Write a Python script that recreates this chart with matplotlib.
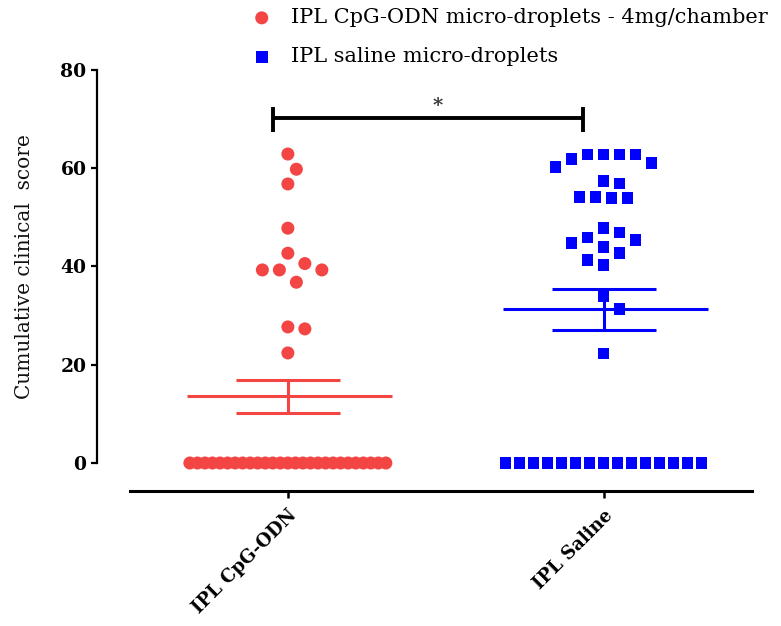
import numpy as np
import matplotlib
matplotlib.use("Agg")
import matplotlib.pyplot as plt

# data (cumulative clinical score per animal)
categories = ["IPL CpG-ODN", "IPL Saline"]
legend_labels = ["IPL CpG-ODN micro-droplets - 4mg/chamber", "IPL saline micro-droplets"]

cpg_nonzero = [62.9, 59.8, 56.8, 47.8, 42.7, 40.6, 39.3, 39.3, 39.3, 36.8, 27.7, 27.3, 22.4]
cpg_zero_count = 27
saline_nonzero = [62.8, 62.8, 62.8, 62.8, 61.9, 61.0, 60.3, 57.4, 56.9, 54.2, 54.2, 53.9, 53.9,
                  47.8, 46.9, 45.9, 45.4, 44.8, 43.9, 42.8, 41.3, 40.3, 33.9, 31.3, 22.3]
saline_zero_count = 15

cpg = np.array(cpg_nonzero + [0.0] * cpg_zero_count)
saline = np.array(saline_nonzero + [0.0] * saline_zero_count)

red = "#F44545"
blue = "#0000FF"

plt.rcParams['font.family'] = ['DejaVu Serif']

fig = plt.figure(figsize=(7.81, 6.26), dpi=100)
ax = fig.add_axes([130 / 781, 1 - 491 / 626, (752 - 130) / 781, (491 - 70) / 626])
ax.set_xlim(-0.5, 1.47)
ax.set_ylim(-5.7, 80)


def swarm(values, center, step_px=17.0, max_half_px=98.0):
    # simple beeswarm in pixel space; ties that don't fit are squeezed in a row
    to_px = ax.transData
    inv = to_px.inverted()
    cx_px = to_px.transform((center, 0))[0]
    xs = np.zeros(len(values))
    placed = []
    vals, counts = np.unique(values, return_counts=True)
    order = np.argsort(values)[::-1]
    done = set()
    for i in order:
        v = values[i]
        n_same = counts[vals == v][0]
        if n_same > 6:
            if v in done:
                continue
            done.add(v)
            idx = np.where(values == v)[0]
            sp = min(step_px, 2 * max_half_px / (n_same - 1))
            offs = (np.arange(n_same) - (n_same - 1) / 2) * sp
            ypx = to_px.transform((center, v))[1]
            for j, o in zip(idx, offs):
                xs[j] = inv.transform((cx_px + o, ypx))[0]
            continue
        ypx = to_px.transform((center, v))[1]
        k = 0
        while True:
            cands = [0.0] if k == 0 else [k * step_px / 2, -k * step_px / 2]
            ok = None
            for o in cands:
                if all((o - px) ** 2 + (ypx - py) ** 2 >= step_px ** 2 for px, py in placed):
                    ok = o
                    break
            if ok is not None:
                placed.append((ok, ypx))
                xs[i] = inv.transform((cx_px + ok, ypx))[0]
                break
            k += 1
    return xs


x_cpg = swarm(cpg, 0)
x_sal = swarm(saline, 1, step_px=16.0)

ax.scatter(x_cpg, cpg, s=88, marker='o', color=red, edgecolors='none', zorder=3,
           label=legend_labels[0], clip_on=False)
ax.scatter(x_sal, saline, s=72, marker='s', color=blue, edgecolors='none', zorder=3,
           label=legend_labels[1], clip_on=False)

# mean +/- SEM
for pos, vals, col in [(0, cpg, red), (1, saline, blue)]:
    m = vals.mean()
    sem = vals.std(ddof=1) / np.sqrt(len(vals))
    ax.hlines(m, pos - 0.32, pos + 0.33, color=col, lw=2.2, zorder=4)
    ax.hlines([m - sem, m + sem], pos - 0.165, pos + 0.165, color=col, lw=2.2, zorder=4)
    ax.vlines(pos, m - sem, m + sem, color=col, lw=2.2, zorder=4)

# significance bracket
bx0, bx1, by = -0.047, 0.934, 70.2
ax.hlines(by, bx0, bx1, color='black', lw=2.8)
ax.vlines([bx0, bx1], by - 2.9, by + 2.2, color='black', lw=2.8)
ax.text(0.475, by + 0.6, '*', ha='center', va='bottom', fontsize=14,
        fontweight='bold', color='#333333')

# Prism-like axes
for s in ['top', 'right']:
    ax.spines[s].set_visible(False)
ax.spines['left'].set_position(('outward', 33 * 0.72))
ax.spines['left'].set_bounds(0, 80)
ax.spines['left'].set_linewidth(1.6)
ax.spines['bottom'].set_linewidth(2.2)
ax.set_yticks([0, 20, 40, 60, 80])
ax.set_xticks([0, 1])
ax.set_xticklabels(categories, rotation=45, ha='right', va='top', rotation_mode='anchor',
                   fontsize=13, fontweight='bold')
ax.tick_params(axis='y', length=4.5, width=1.6, labelsize=13.5, pad=3)
ax.tick_params(axis='x', length=5, width=1.8, pad=6)
for t in ax.get_yticklabels():
    t.set_fontweight('bold')

ax.set_ylabel('Cumulative clinical  score', fontsize=14.5, color='#111111')
ax.yaxis.set_label_coords(-0.155, 0.534)

fig.legend(loc='upper left', bbox_to_anchor=(243 / 781, 1.0), frameon=False,
           fontsize=15, handlelength=1.0, handletextpad=0.9, labelspacing=0.95,
           borderaxespad=0.0)

fig.savefig('out.png', dpi=100)
